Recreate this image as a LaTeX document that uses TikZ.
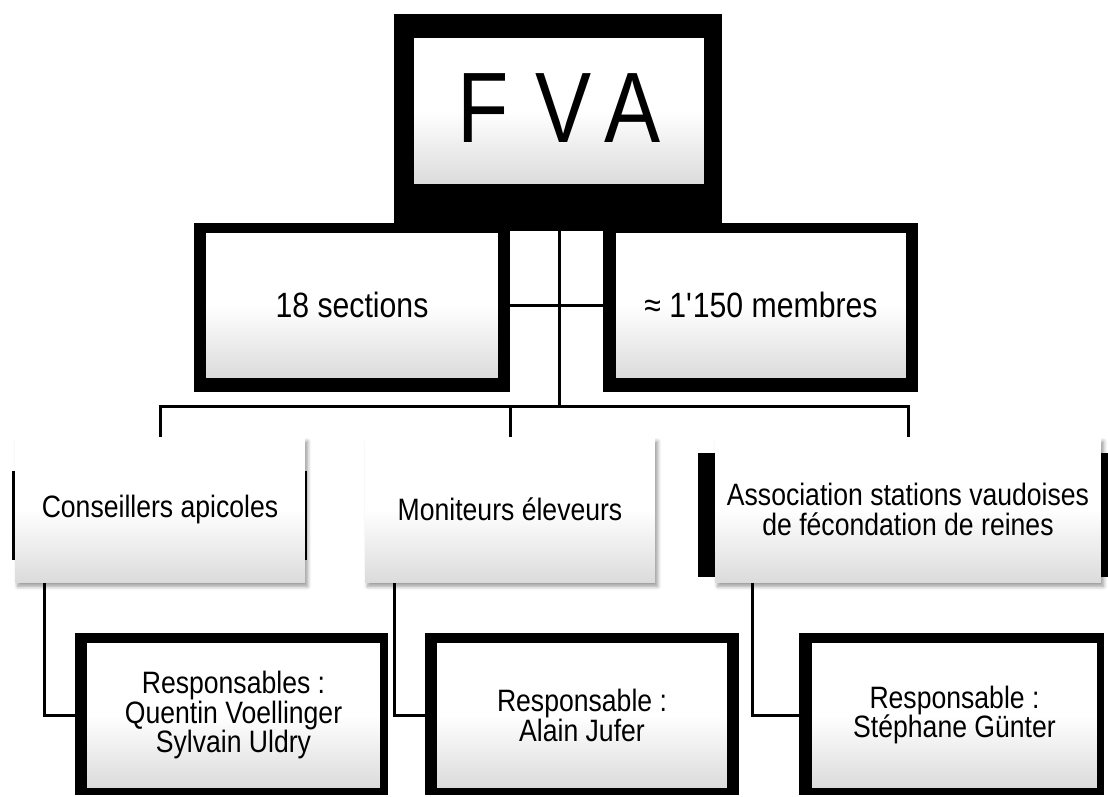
\documentclass[tikz,border=0pt]{standalone}
\usepackage{fontspec}
\setmainfont{Liberation Sans}[FakeStretch=0.86]
\newfontfamily\fvafont{Liberation Sans}[FakeStretch=0.84]
\usetikzlibrary{shadows.blur,backgrounds}

\begin{document}
\begin{tikzpicture}[x=0.02cm,y=-0.02cm]
\tikzstyle{box}=[inner sep=0pt, align=center, top color=white, bottom color=black!14, middle color=white, font=\fontsize{17.6}{17}\selectfont]
\tikzstyle{soft}=[box, blur shadow={shadow xshift=1.5pt, shadow yshift=-2.5pt, shadow blur steps=6, shadow opacity=40}]
\tikzstyle{frame}=[fill=black]
\tikzstyle{line}=[line width=0.06cm]
\useasboundingbox (0,0) rectangle (1108,796);
\node (fva) at (559,111) [box, minimum width=5.8cm, minimum height=2.92cm, font=\fvafont\fontsize{57}{57}\selectfont] {\raisebox{0.1cm}{F\hspace{0.52cm}V\hspace{0.26cm}A}};
\node (sec) at (352,305) [box, minimum width=5.84cm, minimum height=2.88cm, font=\fontsize{20}{22}\selectfont] {18 sections};
\node (mem) at (761,305) [box, minimum width=5.8cm, minimum height=2.88cm, font=\fontsize{20}{22}\selectfont] {≈ 1\textquotesingle150 membres};
\node (cons) at (160,509.5) [soft, minimum width=5.8cm, minimum height=2.9cm] {Conseillers apicoles};
\node (moni) at (510,509.5) [soft, minimum width=5.8cm, minimum height=2.9cm] {Moniteurs éleveurs};
\node (asso) at (908,509.5) [soft, minimum width=7.72cm, minimum height=2.9cm] {Association stations vaudoises\\de fécondation de reines};
\node (r1) at (233.5,715) [box, minimum width=5.86cm, minimum height=2.88cm] {Responsables :\\Quentin Voellinger\\Sylvain Uldry};
\node (r2) at (582,715) [box, minimum width=5.8cm, minimum height=2.88cm] {Responsable :\\Alain Jufer};
\node (r3) at (954.5,715) [box, minimum width=5.7cm, minimum height=2.88cm] {Responsable :\\Stéphane Günter};
\begin{scope}[on background layer]
\fill[frame] ([shift={(-20,-24)}]fva.north west) rectangle ([shift={(18,47)}]fva.south east);
\fill[frame] ([shift={(-12,-10)}]sec.north west) rectangle ([shift={(12,15)}]sec.south east);
\fill[frame] ([shift={(-13,-10)}]mem.north west) rectangle ([shift={(12,15)}]mem.south east);
\fill[frame] ([shift={(-3,34)}]cons.north west) rectangle ([shift={(2,-22)}]cons.south east);
\fill[frame] ([shift={(-17,16)}]asso.north west) rectangle ([shift={(7,-5)}]asso.south east);
\fill[frame] ([shift={(-12,-10)}]r1.north west) rectangle ([shift={(8,8)}]r1.south east);
\fill[frame] ([shift={(-12,-10)}]r2.north west) rectangle ([shift={(12,8)}]r2.south east);
\fill[frame] ([shift={(-13,-10)}]r3.north west) rectangle ([shift={(7,8)}]r3.south east);
\coordinate (bus) at (559,406);
\draw[line] (fva) -- (bus);
\draw[line] (sec) -- (mem);
\draw[line] (cons.north) |- (bus) -| (asso.north);
\draw[line] (bus) -| (moni.north);
\draw[line] ([xshift=0.6cm]cons.south west) |- (r1);
\draw[line] ([xshift=0.6cm]moni.south west) |- (r2);
\draw[line] ([xshift=0.76cm]asso.south west) |- (r3);
\end{scope}
\end{tikzpicture}
\end{document}
